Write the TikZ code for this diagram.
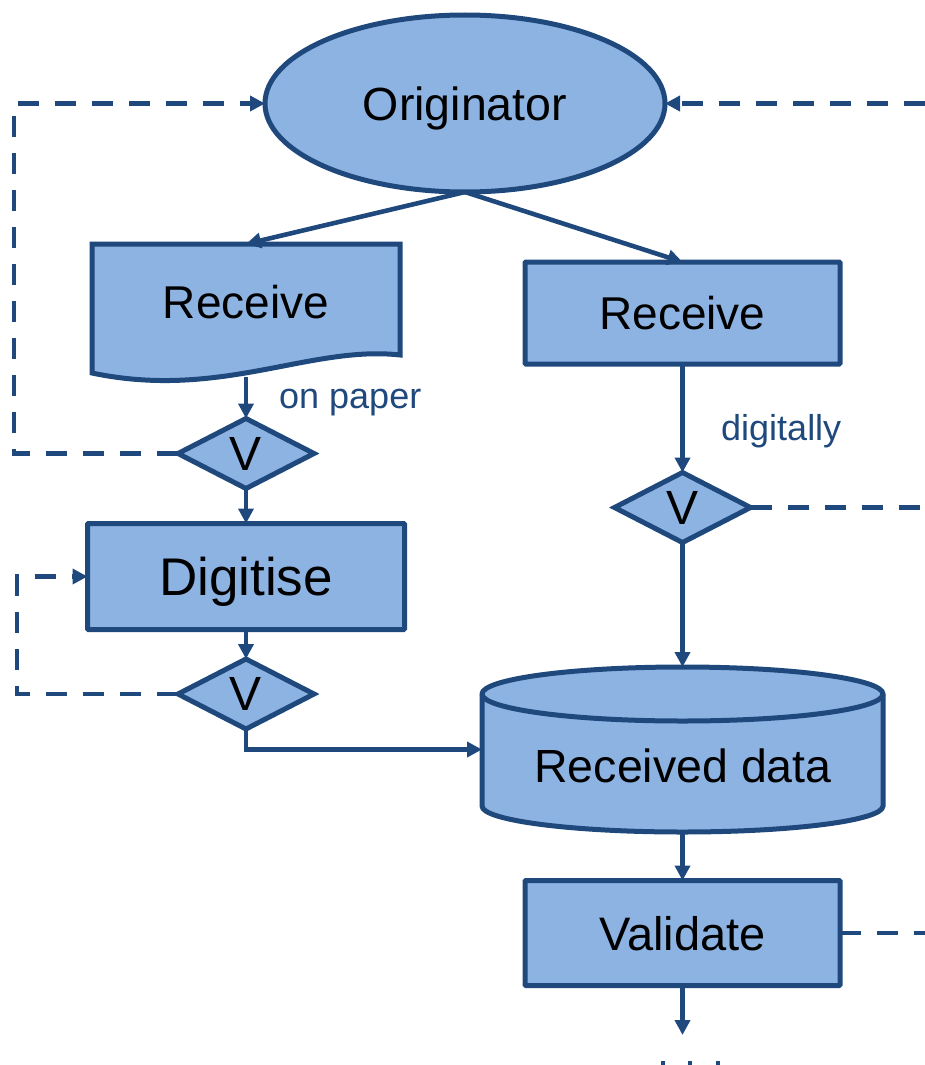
\documentclass[tikz,border=0pt]{standalone}
\usepackage{fontspec}
\setmainfont{Liberation Sans}
\usetikzlibrary{shapes.geometric,arrows.meta}
\definecolor{fillb}{HTML}{8DB3E2}
\definecolor{lineb}{HTML}{1F497D}
\begin{document}
\begin{tikzpicture}[x=1pt,y=-1pt,
 shp/.style={draw=lineb,fill=fillb,line width=5pt,inner sep=0pt,outer sep=0pt},
 boxn/.style={shp,rectangle,rounded corners=1pt,text depth=0pt},
 dia/.style={shp,diamond,aspect=2,minimum width=136pt,minimum height=70pt,font=\fontsize{48}{50}\selectfont,text depth=0pt},
 ghost/.style={draw=none,fill=none,inner sep=0pt,outer sep=0pt,rectangle},
 txt/.style={inner sep=0pt,text depth=0pt},
 conn/.style={draw=lineb,line width=4.6pt,-{Triangle[length=15pt,width=15pt]}},
 dconn/.style={conn,dash pattern=on 21pt off 16pt},
 dline/.style={draw=lineb,line width=4.6pt,dash pattern=on 21pt off 16pt},
 lab/.style={text=lineb,font=\fontsize{36}{40}\selectfont,inner sep=0pt,anchor=base west}
]
\useasboundingbox (0,0) rectangle (925,1065);
\coordinate (edge) at (925,0);

% Originator
\node[shp,ellipse,minimum width=400pt,minimum height=177pt,text depth=0pt,font=\fontsize{46.5}{50}\selectfont] (orig) at (465,103.5) {Originator};

% Left Receive (document shape)
\node[ghost,minimum width=308pt,minimum height=133pt] (rec1) at (246,310.5) {};
\path[shp] (rec1.north west) -- (rec1.north east) -- (400,355)
  .. controls (310,345) and (220,400) .. (92,373) -- cycle;
\node[txt,font=\fontsize{46}{50}\selectfont] (rec1txt) at (246,302) {Receive};

% Right Receive
\node[boxn,minimum width=315pt,minimum height=102pt,font=\fontsize{46}{50}\selectfont] (rec2) at (682.5,313) {Receive};

% Diamonds
\node[dia] (d1) at (246,453.5) {V};
\node[dia] (d2) at (682.5,507.5) {V};
\node[dia] (d3) at (246,694) {V};

% Digitise
\node[boxn,minimum width=317pt,minimum height=106pt,font=\fontsize{53}{56}\selectfont] (dig) at (246,576.5) {Digitise};

% Cylinder
\node[ghost,minimum width=401pt,minimum height=165pt] (cyl) at (682.5,749.5) {};
\path[shp] (482,694) -- (482,806) arc[start angle=180,end angle=360,x radius=200.5pt,y radius=26pt]
  -- (883,694) arc[start angle=0,end angle=180,x radius=200.5pt,y radius=27pt] -- cycle;
\draw[draw=lineb,line width=5pt] (482,694) arc[start angle=180,end angle=360,x radius=200.5pt,y radius=27pt];
\node[txt,font=\fontsize{46.5}{50}\selectfont] (cyltxt) at (683,766) {Received data};

% Validate
\node[boxn,minimum width=315pt,minimum height=105pt,font=\fontsize{47}{50}\selectfont] (val) at (682.5,933) {Validate};
\coordinate (valout) at (682.5,1035);

% Labels
\node[lab] (lpaper) at (279,408) {on paper};
\node[lab] (ldig) at (721,440) {digitally};

% Connectors
\draw[conn] (orig.south) -- (rec1.north);
\draw[conn] (orig.south) -- (rec2.north);
\draw[conn] (rec1.south) -- (d1.north);
\draw[conn] (d1.south) -- (dig.north);
\draw[conn] (dig.south) -- (d3.north);
\draw[conn] (d3.south) |- (cyl.west);
\draw[conn] (rec2.south) -- (d2.north);
\draw[conn] (d2.south) -- (cyl.north);
\draw[conn] (cyl.south) -- (val.north);
\draw[conn] (val.south) -- (valout);

% Dashed feedback lines
\draw[dconn] (d1.west) -- ++(-164,0) |- (orig.west);
\draw[dconn] (d3.west) -- ++(-161,0) |- (dig.west);
\draw[dconn] (orig.east -| edge) -- (orig.east);
\draw[dline] (d2.east) -- (d2.east -| edge);
\draw[dline] (val.east) -- (val.east -| edge);

% Continuation marks at the bottom edge
\foreach \xx [count=\i] in {663,690,718} {
  \draw[draw=lineb,line width=4pt] (\xx,1061) -- (\xx,1075);
}
\end{tikzpicture}
\end{document}
